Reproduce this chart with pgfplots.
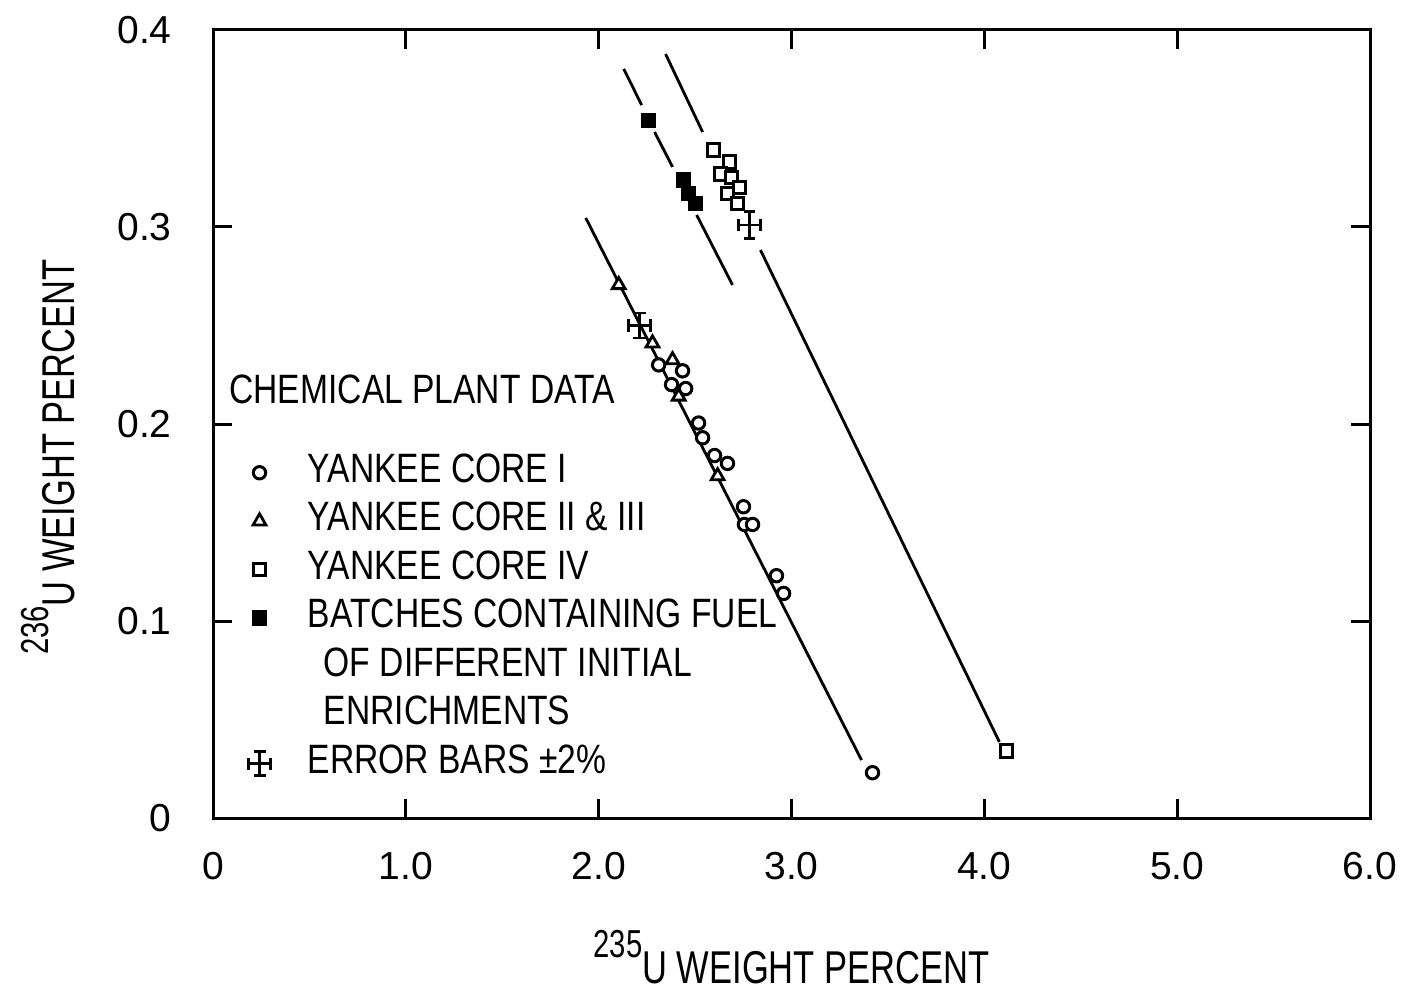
\documentclass[border=0pt]{standalone}
\usepackage{fontspec}
\usepackage{pgfplots}
\pgfplotsset{compat=1.18}
\setmainfont{Liberation Sans}
\newfontfamily\condA[FakeStretch=0.82]{Liberation Sans}
\newfontfamily\condB[FakeStretch=0.75]{Liberation Sans}
\newcommand\lblA{\condA\fontsize{20.5bp}{24.25bp}\selectfont}
\newcommand\lblB{\condB\fontsize{23bp}{26bp}\selectfont}
\newcommand\supB{\condB\fontsize{19.5bp}{22bp}\selectfont}
\newcommand\tickfont{\fontsize{19.5bp}{23bp}\selectfont}
\begin{document}
\begin{tikzpicture}
\begin{axis}[
  name=ax,
  scale only axis,
  width=578.5bp, height=394bp,
  xmin=0, xmax=6, ymin=0, ymax=0.4,
  axis line style={line width=1.5bp},
  every tick/.style={line width=1.5bp, black},
  major tick length=9.5bp,
  tick align=inside,
  xtick pos=both, ytick pos=both,
  xticklabel pos=lower, yticklabel pos=left,
  xtick={0,1,2,3,4,5,6},
  xticklabels={0,1.0,2.0,3.0,4.0,5.0,6.0},
  ytick={0,0.1,0.2,0.3,0.4},
  yticklabels={0,0.1,0.2,0.3,0.4},
  /pgf/number format/assume math mode=true,
  tick label style={font=\tickfont},
  xticklabel style={anchor=north, inner sep=0pt, yshift=-17bp},
  yticklabel style={anchor=east, inner sep=0pt, xshift=-20.5bp},
  xlabel={\lblB\raisebox{13bp}{\supB 235}U WEIGHT PERCENT},
  ylabel={\lblB\raisebox{13bp}{\supB 236}U WEIGHT PERCENT},
  xlabel style={at={(axis description cs:0.5,-0.2094)}, anchor=base},
  ylabel style={at={(axis description cs:-0.1193,0.458)}, anchor=base},
  legend style={at={(axis cs:0.12,0.1898)}, anchor=north west, draw=none, fill=none,
    font=\lblA, row sep=0pt, column sep=18bp,
    nodes={inner sep=0pt, text height=17bp, text depth=7.25bp}},
  legend cell align=left,
  eb/.style={forget plot, no marks, line width=1.4bp, black},
]
% fitted lines
\addplot[eb] coordinates {(1.933,0.3046) (3.363,0.0294)};
\addplot[eb] coordinates {(2.347,0.3878) (2.539,0.3482)};
\addplot[eb] coordinates {(2.839,0.2883) (4.078,0.0386)};
\addplot[eb] coordinates {(2.130,0.3802) (2.223,0.3619)};
\addplot[eb] coordinates {(2.290,0.3482) (2.383,0.3305)};
\addplot[eb] coordinates {(2.508,0.3061) (2.694,0.2706)};
% error bars (+-2%) at (2.782,0.301) and (2.212,0.250)
\addplot[eb] coordinates {(2.724,0.301) (2.840,0.301)};
\addplot[eb] coordinates {(2.782,0.294) (2.782,0.308)};
\addplot[eb] coordinates {(2.724,0.2981) (2.724,0.3039)};
\addplot[eb] coordinates {(2.840,0.2981) (2.840,0.3039)};
\addplot[eb] coordinates {(2.752,0.308) (2.812,0.308)};
\addplot[eb] coordinates {(2.752,0.294) (2.812,0.294)};
\addplot[eb] coordinates {(2.155,0.250) (2.269,0.250)};
\addplot[eb] coordinates {(2.212,0.2437) (2.212,0.2563)};
\addplot[eb] coordinates {(2.155,0.2467) (2.155,0.2533)};
\addplot[eb] coordinates {(2.269,0.2467) (2.269,0.2533)};
\addplot[eb] coordinates {(2.180,0.2563) (2.244,0.2563)};
\addplot[eb] coordinates {(2.180,0.2437) (2.244,0.2437)};
% data
\addplot[only marks, mark=*, mark size=3.1bp, mark options={fill=white, draw=black, line width=1.5bp}]
  coordinates {(2.311,0.230) (2.435,0.227) (2.378,0.220) (2.451,0.218) (2.518,0.2005)
  (2.539,0.193) (2.601,0.184) (2.668,0.180) (2.751,0.158) (2.756,0.149) (2.798,0.149)
  (2.922,0.123) (2.959,0.114) (3.420,0.023)};
\addlegendentry{YANKEE CORE I}
\addplot[only marks, mark=triangle*, mark size=3.7bp, mark options={fill=white, draw=black, line width=1.4bp}]
  coordinates {(2.104,0.2706) (2.279,0.241) (2.383,0.2325) (2.415,0.214) (2.617,0.1736)};
\addlegendentry{YANKEE CORE II \& III}
\addplot[only marks, mark=square*, mark size=3.1bp, mark options={fill=white, draw=black, line width=1.5bp}]
  coordinates {(2.596,0.339) (2.679,0.333) (2.632,0.327) (2.689,0.325) (2.731,0.320)
  (2.668,0.317) (2.720,0.312) (4.114,0.034)};
\addlegendentry{YANKEE CORE IV}
\addplot[only marks, mark=square*, mark size=3.4bp, mark options={fill=black, draw=black, line width=1bp}]
  coordinates {(2.259,0.354) (2.440,0.324) (2.466,0.317) (2.503,0.312)};
\addlegendentry{BATCHES CONTAINING FUEL}
\addlegendimage{empty legend}
\addlegendentry{\hspace{8bp}OF DIFFERENT INITIAL}
\addlegendimage{empty legend}
\addlegendentry{\hspace{8bp}ENRICHMENTS}
\addlegendimage{legend image code/.code={
  \draw[line width=1.3bp] (0.3cm-5.5bp,0)--(0.3cm+5.5bp,0) (0.3cm,-6bp)--(0.3cm,6bp)
   (0.3cm-5.5bp,-3bp)--(0.3cm-5.5bp,3bp) (0.3cm+5.5bp,-3bp)--(0.3cm+5.5bp,3bp)
   (0.3cm-3bp,6bp)--(0.3cm+3bp,6bp) (0.3cm-3bp,-6bp)--(0.3cm+3bp,-6bp);}}
\addlegendentry{ERROR BARS ±2\%}
\node[anchor=base west, inner sep=0pt, font=\lblA] at (axis cs:0.083,0.2102) {CHEMICAL PLANT DATA};
\end{axis}
\path[use as bounding box] ([xshift=-106.5bp,yshift=-88bp]ax.south west) rectangle ([xshift=17bp,yshift=15bp]ax.north east);
\end{tikzpicture}
\end{document}
